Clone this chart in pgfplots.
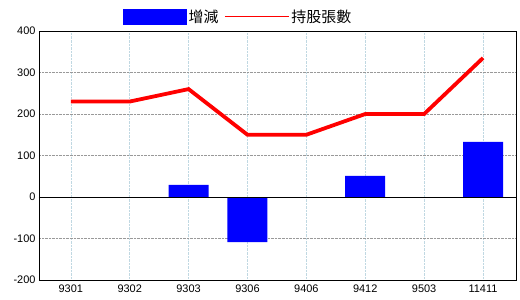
\documentclass[border=0pt]{standalone}
\usepackage{pgfplots}
\pgfplotsset{compat=1.18}
\usepackage{fontspec}
\setmainfont{Liberation Sans}
\newfontfamily\cjk{Noto Sans CJK TC}
\begin{document}
\begin{tikzpicture}
\path[use as bounding box] (0,0) rectangle (520bp,300bp);
\begin{axis}[
  at={(39bp,20bp)}, anchor=south west,
  scale only axis, width=477bp, height=249bp,
  xmin=-0.54, xmax=7.56, ymin=-200, ymax=400,
  xtick={0,...,7},
  xticklabels={9301,9302,9303,9306,9406,9412,9503,11411},
  ytick={-200,-100,0,100,200,300,400},
  tick style={draw=none},
  ticklabel style={font=\fontsize{11}{11}\selectfont},
  xticklabel style={yshift=-1bp},
  /pgf/number format/assume math mode=true,
  xmajorgrids, ymajorgrids,
  x grid style={densely dotted, color=gray!60!cyan!40!white},
  y grid style={densely dotted, color=gray!80},
  axis line style={black, line width=0.8pt},
  legend style={draw=none, fill=none, at={(0.417,1)}, anchor=south, yshift=3bp,
    legend columns=2, font=\cjk\fontsize{15}{15}\selectfont,
    /tikz/every even column/.append style={column sep=4bp}},
  clip=false,
]
\addplot[ybar, bar width=40bp, fill=blue, draw=none, bar shift=0pt,
  legend image code/.code={\fill[blue] (0bp,-8bp) rectangle (64bp,8bp);}]
  coordinates {(0,0) (1,0) (2,29) (3,-109) (4,0) (5,51) (6,0) (7,133)};
\addlegendentry{增減}
\addplot[red, line width=3.8pt, mark=none,
  legend image code/.code={\draw[red, line width=1pt] (0bp,0bp) -- (64bp,0bp);}]
  coordinates {(0,230) (1,230) (2,260) (3,150) (4,150) (5,200) (6,200) (7,335)};
\addlegendentry{持股張數}
\draw[black, line width=0.8pt] (axis cs:-0.54,0) -- (axis cs:7.56,0);
\end{axis}
\end{tikzpicture}
\end{document}
